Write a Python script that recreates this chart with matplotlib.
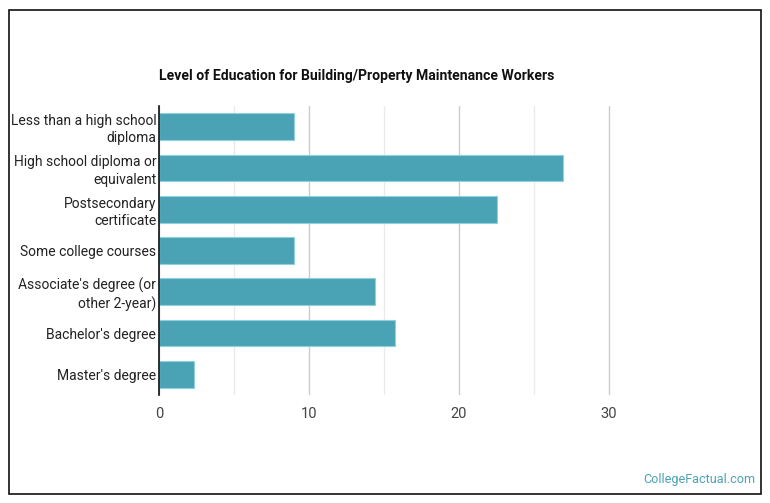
import matplotlib
matplotlib.use('Agg')
from matplotlib import pyplot as plt
from matplotlib.patches import Rectangle

plt.rcParams['font.family'] = ['Roboto', 'DejaVu Sans']

categories = ['Less than a high school\ndiploma',
              'High school diploma or\nequivalent',
              'Postsecondary\ncertificate',
              'Some college courses',
              "Associate's degree (or\nother 2-year)",
              "Bachelor's degree",
              "Master's degree"]
values = [9.0, 26.9, 22.5, 9.0, 14.4, 15.7, 2.3]
major_ticks = [0, 10, 20, 30]
minor_ticks = [5, 15, 25]

W, H = 770, 503
fig = plt.figure(figsize=(W / 100, H / 100), dpi=100)
ax = fig.add_axes([159 / W, 1 - 395 / H, 495 / W, 289 / H])

ypos = list(range(len(categories)))
ax.barh(ypos, values, height=0.65, color='#4aa3b5', edgecolor='#8fd0dc',
        linewidth=0.8, zorder=3)
ax.set_ylim(len(categories) - 0.5, -0.5)
ax.set_xlim(0, 33)
ax.set_yticks(ypos)
ax.set_yticklabels(categories, fontsize=10, color='#222222', linespacing=1.3,
                   multialignment='right')
ax.set_xticks(major_ticks)
ax.set_xticks(minor_ticks, minor=True)
ax.tick_params(axis='x', which='both', length=0, labelsize=10.5,
               labelcolor='#444444', pad=9)
ax.tick_params(axis='y', length=0, pad=2)
ax.grid(axis='x', which='major', color='#cccccc', linewidth=1, zorder=0)
ax.grid(axis='x', which='minor', color='#ebebeb', linewidth=1, zorder=0)
for s in ['top', 'right', 'bottom']:
    ax.spines[s].set_visible(False)
ax.spines['left'].set_color('#111111')
ax.spines['left'].set_linewidth(1.2)
ax.spines['left'].set_zorder(4)

fig.text(357 / W, 1 - 76 / H, 'Level of Education for Building/Property Maintenance Workers',
         ha='center', va='center', fontsize=10.1, fontweight='bold', color='#111111')
fig.text(755 / W, 1 - 480 / H, 'CollegeFactual.com', ha='right', va='center',
         fontsize=9.1, color='#4aa3b5')

fig.patches.append(Rectangle((8.5 / W, 9.5 / H), 752 / W, 484 / H,
                             transform=fig.transFigure, fill=False,
                             edgecolor='#111111', linewidth=1.2))

fig.savefig('out.png', dpi=100)
